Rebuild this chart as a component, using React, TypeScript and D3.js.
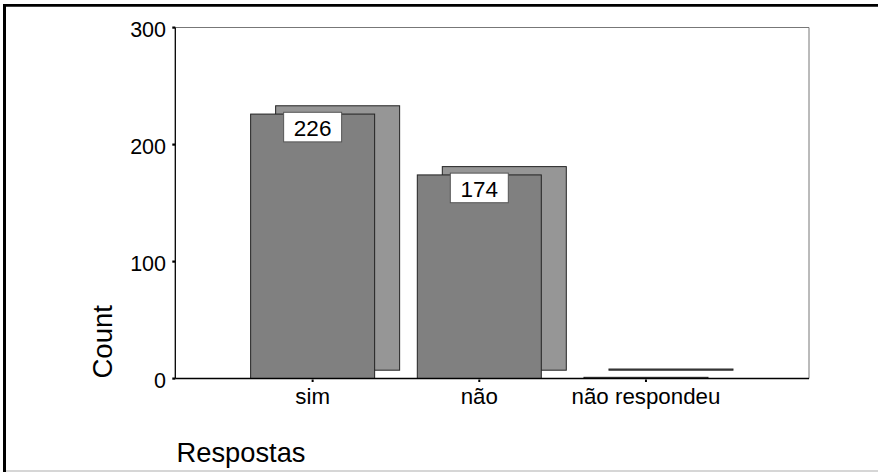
import React from "react";
import * as d3 from "d3";

const categories = ["sim", "não", "não respondeu"];
const counts = [226, 174, 1];
const valueLabels = ["226", "174", ""];
const yTicks = [0, 100, 200, 300];

const W = 878;
const H = 472;
const plot = { left: 175.3, right: 809, top: 27.5, bottom: 378.5 };
const FONT = "'Liberation Sans', Arial, Helvetica, sans-serif";

export default function App() {
  const y = d3.scaleLinear().domain([0, 300]).range([plot.bottom, plot.top]);
  const x = d3.scaleBand<string>().domain(categories).range([229.3, 729.3]).padding(0);
  const barW = x.bandwidth() * 0.744;
  const dx = 25;
  const dy = -8.3;

  return (
    <svg
      width={W}
      height={H}
      style={{ position: "absolute", left: 0, top: 0, background: "#fff" }}
      fontFamily={FONT}
    >
      <rect x={0} y={0} width={W} height={H} fill="#fff" />
      {/* outer frame */}
      <line x1={3} x2={W} y1={5.3} y2={5.3} stroke="#000" strokeWidth={2.8} />
      <line x1={4.5} x2={4.5} y1={4} y2={H} stroke="#000" strokeWidth={3} />
      <line x1={6} x2={W} y1={471} y2={471} stroke="#c8c8c8" strokeWidth={1.5} />

      {/* plot frame top/right grey */}
      <line x1={plot.left} x2={plot.right} y1={plot.top} y2={plot.top} stroke="#777" strokeWidth={1} />
      <line x1={plot.right} x2={plot.right} y1={plot.top} y2={plot.bottom} stroke="#777" strokeWidth={1} />

      {/* bars */}
      {categories.map((c, i) => {
        const cx = (x(c) as number) + x.bandwidth() / 2;
        const x0 = cx - barW / 2;
        const yt = y(counts[i]);
        const h = y(0) - yt;
        return (
          <g key={c}>
            <rect
              x={x0 + dx}
              y={yt + dy}
              width={barW}
              height={h}
              fill="#969696"
              stroke="#222"
              strokeWidth={1}
            />
            <rect
              x={x0}
              y={yt}
              width={barW}
              height={h}
              fill="#808080"
              stroke="#222"
              strokeWidth={1}
            />
          </g>
        );
      })}

      {/* axes (black) */}
      <line x1={plot.left} x2={plot.left} y1={plot.top} y2={plot.bottom} stroke="#000" strokeWidth={1.3} />
      <line x1={plot.left} x2={plot.right} y1={plot.bottom} y2={plot.bottom} stroke="#000" strokeWidth={1.3} />

      {/* value labels */}
      {categories.map((c, i) => {
        if (!valueLabels[i]) return null;
        const cx = (x(c) as number) + x.bandwidth() / 2;
        const top = y(counts[i]) - 1.8;
        return (
          <g key={"l" + c}>
            <rect x={cx - 29} y={top} width={58} height={29.6} fill="#fff" stroke="#555" strokeWidth={1} />
            <text x={cx} y={top + 24} textAnchor="middle" fontSize={22.5} fill="#000">
              {valueLabels[i]}
            </text>
          </g>
        );
      })}

      {/* y ticks */}
      {yTicks.map((t) => (
        <g key={t}>
          <rect x={172.3} y={y(t) - 1} width={3} height={2.2} fill="#000" />
          <text x={166} y={y(t) + 9.2} textAnchor="end" fontSize={21.5} fill="#000">
            {t}
          </text>
        </g>
      ))}

      {/* x ticks */}
      {categories.map((c) => {
        const cx = (x(c) as number) + x.bandwidth() / 2;
        return (
          <g key={"t" + c}>
            <rect x={cx - 1} y={379.5} width={2} height={2.5} fill="#000" />
            <text x={cx} y={403.5} textAnchor="middle" fontSize={22.3} fill="#000">
              {c}
            </text>
          </g>
        );
      })}

      {/* axis titles */}
      <text
        transform={`translate(111.5, 378.5) rotate(-90)`}
        textAnchor="start"
        fontSize={27.5}
        fill="#000"
      >
        Count
      </text>
      <text x={176.5} y={461.5} fontSize={27.3} fill="#000">
        Respostas
      </text>
    </svg>
  );
}
